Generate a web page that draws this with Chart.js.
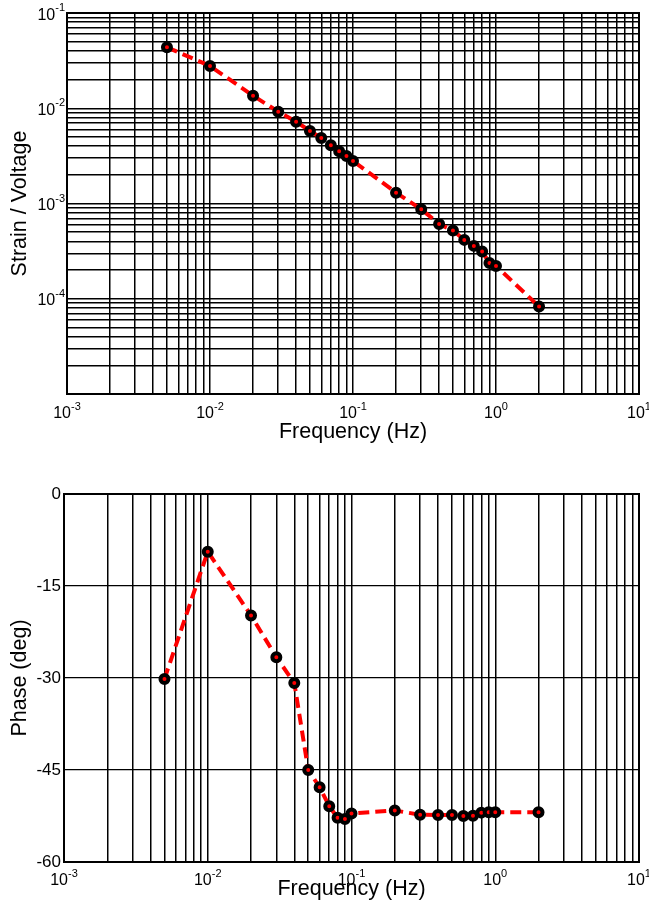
<!DOCTYPE html>
<html>
<head>
<meta charset="utf-8">
<script src="https://cdn.jsdelivr.net/npm/chart.js@4.4.1/dist/chart.umd.min.js"></script>
<style>
  html, body { margin: 0; padding: 0; background: #fff; }
  #wrap { position: relative; width: 649px; height: 913px; }
  canvas { position: absolute; left: 0; }
  #magChart { top: 0; }
  #phaseChart { top: 456px; }
</style>
</head>
<body>
<div id="wrap">
  <canvas id="magChart" width="649" height="456"></canvas>
  <canvas id="phaseChart" width="649" height="457"></canvas>
</div>
<script>
// measured frequencies (Hz)
const freq = [0.005, 0.01, 0.02, 0.03, 0.04, 0.05, 0.06, 0.07, 0.08, 0.09, 0.1,
  0.2, 0.3, 0.4, 0.5, 0.6, 0.7, 0.8, 0.9, 1, 2];

// magnitude, strain per volt
const strainPerVolt = [0.0436, 0.0278, 0.01355, 0.0092, 0.00723, 0.00578, 0.00488,
  0.00409, 0.00354, 0.00316, 0.0028, 0.0013, 0.00087, 0.00061, 0.00052, 0.000415,
  0.000359, 0.000313, 0.000237, 0.000221, 0.0000828];

// phase, degrees
const phaseDeg = [-30.15, -9.4, -19.8, -26.6, -30.8, -45.0, -47.8, -50.9, -52.8,
  -53.0, -52.1, -51.6, -52.3, -52.35, -52.35, -52.5, -52.45, -51.95, -51.9, -51.9, -51.9];

// axis decades + exponents shown as 10^n
const freqDecades = [0.001, 0.01, 0.1, 1, 10];
const freqExponents = ["-3", "-2", "-1", "0", "1"];
const magDecades = [0.00001, 0.0001, 0.001, 0.01, 0.1];
const magExponents = ["", "-4", "-3", "-2", "-1"];
const phaseTicks = [-60, -45, -30, -15, 0];
const phaseLabels = ["-60", "-45", "-30", "-15", "0"];

const FONT = "'Liberation Sans', Arial, Helvetica, sans-serif";

// grid lines at 1..9 x 10^k inside each decade
const logGrid = (decades) => {
  let out = [];
  decades.forEach((d, i) => {
    if (i === decades.length - 1) { out.push(d); return; }
    for (let m = 1; m <= 9; m++) out.push(m * d);
  });
  return out;
};

// "10" with a raised exponent, like matlab does it
const drawPower = (ctx, exp, x, y, align) => {
  if (!exp) return;
  ctx.font = "16px " + FONT;
  const wBase = ctx.measureText("10").width;
  ctx.font = "11px " + FONT;
  const wExp = ctx.measureText(exp).width;
  let left = align === "center" ? x - (wBase + wExp) / 2 : x - wBase - wExp;
  ctx.fillStyle = "#000";
  ctx.textAlign = "left";
  ctx.textBaseline = "alphabetic";
  ctx.font = "16px " + FONT;
  ctx.fillText("10", left, y);
  ctx.font = "11px " + FONT;
  ctx.fillText(exp, left + wBase, y - 8.5);
};

const powerLabels = {
  id: "powerLabels",
  afterDraw(chart, args, opts) {
    const ctx = chart.ctx;
    ctx.save();
    const xs = chart.scales.x;
    freqDecades.forEach((d, i) => {
      drawPower(ctx, freqExponents[i], xs.getPixelForValue(d), chart.chartArea.bottom + opts.xOffset, "center");
    });
    if (opts.logY) {
      const ys = chart.scales.y;
      magDecades.forEach((d, i) => {
        drawPower(ctx, magExponents[i], chart.chartArea.left - 2, ys.getPixelForValue(d) + 6.5, "right");
      });
    }
    ctx.restore();
  },
};

// thick box round the plot area
const framePlugin = {
  id: "frame",
  afterDatasetsDraw(chart) {
    const { ctx, chartArea: a } = chart;
    ctx.save();
    ctx.strokeStyle = "#000";
    ctx.lineWidth = 2;
    ctx.strokeRect(a.left, a.top, a.right - a.left, a.bottom - a.top);
    ctx.restore();
  },
};

const seriesStyle = {
  borderColor: "#ff0000",
  borderWidth: 4,
  borderDash: [11, 6],
  pointRadius: 4,
  pointBorderWidth: 4,
  pointBackgroundColor: "#ff0000",
  pointBorderColor: "#000",
  tension: 0,
  clip: false,
};

const xFreqScale = (height, titlePad) => ({
  type: "logarithmic",
  min: 0.001,
  max: 10,
  afterBuildTicks: (scale) => {
    scale.ticks = logGrid(freqDecades).map((v) => ({ value: v }));
  },
  afterFit: (scale) => {
    scale.height = height;
    scale.paddingLeft = 0;
    scale.paddingRight = 0;
  },
  grid: { color: "#000", lineWidth: 1.5, drawTicks: false },
  border: { display: false },
  ticks: { display: false, autoSkip: false },
  title: {
    display: true,
    text: "Frequency (Hz)",
    color: "#000",
    font: { family: FONT, size: 21.5 },
    padding: { top: 0, bottom: titlePad },
  },
});

const magCtx = document.getElementById("magChart").getContext("2d");
window.magChart = new Chart(magCtx, {
  type: "line",
  data: {
    datasets: [
      {
        data: freq.map((f, i) => ({ x: f, y: strainPerVolt[i] })),
        ...seriesStyle,
      },
    ],
  },
  plugins: [framePlugin, powerLabels],
  options: {
    responsive: false,
    animation: false,
    events: [],
    layout: { padding: { top: 13, right: 10, left: 0, bottom: 0 } },
    plugins: {
      legend: { display: false },
      tooltip: { enabled: false },
      powerLabels: { xOffset: 24, logY: true },
    },
    scales: {
      x: xFreqScale(62, 11.4),
      y: {
        type: "logarithmic",
        min: 0.00001,
        max: 0.1,
        afterBuildTicks: (scale) => {
          scale.ticks = logGrid(magDecades).map((v) => ({ value: v }));
        },
        afterFit: (scale) => {
          scale.width = 67;
          scale.paddingTop = 0;
          scale.paddingBottom = 0;
        },
        grid: { color: "#000", lineWidth: 1.5, drawTicks: false },
        border: { display: false },
        ticks: { display: false, autoSkip: false },
        title: {
          display: true,
          text: "Strain / Voltage",
          color: "#000",
          font: { family: FONT, size: 21.5 },
          padding: { top: 6.8, bottom: 0 },
        },
      },
    },
  },
});

const phaseCtx = document.getElementById("phaseChart").getContext("2d");
window.phaseChart = new Chart(phaseCtx, {
  type: "line",
  data: {
    datasets: [
      {
        data: freq.map((f, i) => ({ x: f, y: phaseDeg[i] })),
        ...seriesStyle,
      },
    ],
  },
  plugins: [framePlugin, powerLabels],
  options: {
    responsive: false,
    animation: false,
    events: [],
    layout: { padding: { top: 38, right: 10, left: 0, bottom: 0 } },
    plugins: {
      legend: { display: false },
      tooltip: { enabled: false },
      powerLabels: { xOffset: 23, logY: false },
    },
    scales: {
      x: xFreqScale(51, 10.7),
      y: {
        type: "linear",
        min: -60,
        max: 0,
        afterBuildTicks: (scale) => {
          scale.ticks = phaseTicks.map((v) => ({ value: v }));
        },
        afterFit: (scale) => {
          scale.width = 64;
          scale.paddingTop = 0;
          scale.paddingBottom = 0;
        },
        grid: { color: "#000", lineWidth: 1.2, drawTicks: false },
        border: { display: false },
        ticks: {
          autoSkip: false,
          padding: 3,
          color: "#000",
          font: { family: FONT, size: 17 },
          callback: (value) => phaseLabels[phaseTicks.indexOf(value)],
        },
        title: {
          display: true,
          text: "Phase (deg)",
          color: "#000",
          font: { family: FONT, size: 21.5 },
          padding: { top: 6.8, bottom: 0 },
        },
      },
    },
  },
});
</script>
</body>
</html>
